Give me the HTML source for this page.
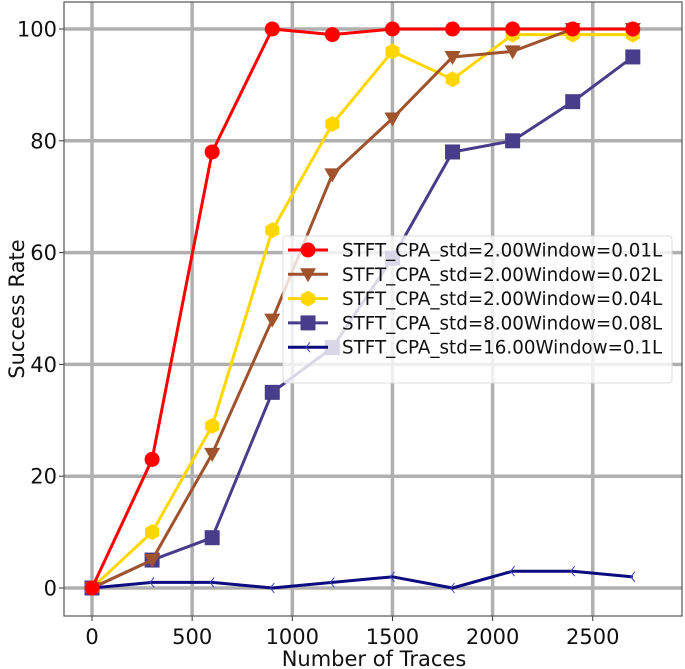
<!DOCTYPE html>
<html><head><meta charset="utf-8"><style>
body{margin:0;background:#fff;}
svg{display:block;font-family:"DejaVu Sans","Liberation Sans",sans-serif;}
</style></head><body>
<svg id="chart" width="685" height="669" viewBox="0 0 685 669"></svg>
<script>
const xCats=[0,300,600,900,1200,1500,1800,2100,2400,2700];
const red=[0,23,78,100,99,100,100,100,100,100];
const brown=[0,5,24,48,74,84,95,96,100,100];
const yellow=[0,10,29,64,83,96,91,99,99,99];
const purple=[0,5,9,35,43,59,78,80,87,95];
const navy=[0,1,1,0,1,2,0,3,3,2];
const xTicks=[0,500,1000,1500,2000,2500];
const yTicks=[0,20,40,60,80,100];
const labels=["STFT_CPA_std=2.00Window=0.01L","STFT_CPA_std=2.00Window=0.02L","STFT_CPA_std=2.00Window=0.04L","STFT_CPA_std=8.00Window=0.08L","STFT_CPA_std=16.00Window=0.1L"];
const NS="http://www.w3.org/2000/svg";
const svg=document.getElementById('chart');
const X=v=>92+v*0.2003;
const Y=v=>588-v*5.59;
function mk(t,a,p){const e=document.createElementNS(NS,t);for(const k in a)e.setAttribute(k,a[k]);(p||svg).appendChild(e);return e;}
const L=64,R=682,T=2,B=616;
xTicks.forEach(t=>{
 const g=mk('line',{x1:X(t),x2:X(t),y1:T,y2:B,stroke:'#b0b0b0','stroke-width':3.5});
 
 mk('line',{x1:X(t),x2:X(t),y1:B,y2:B+5,stroke:'#333','stroke-width':1});
 const tx=mk('text',{x:X(t),y:644,'text-anchor':'middle','font-size':21,fill:'#111'});tx.textContent=t;
 
});
yTicks.forEach(t=>{
 const g=mk('line',{x1:L,x2:R,y1:Y(t),y2:Y(t),stroke:'#b0b0b0','stroke-width':3.5});
 
 mk('line',{x1:L-5,x2:L,y1:Y(t),y2:Y(t),stroke:'#333','stroke-width':1});
 const tx=mk('text',{x:L-7,y:Y(t)+7.5,'text-anchor':'end','font-size':21,fill:'#111'});tx.textContent=t;
 
});
const fr=mk('rect',{x:L,y:T,width:R-L,height:B-T,fill:'none',stroke:'#555','stroke-width':1.2});

const xl=mk('text',{x:374,y:666,'text-anchor':'middle','font-size':21,fill:'#111'});xl.textContent='Number of Traces';

const yl=mk('text',{x:0,y:0,'text-anchor':'middle','font-size':21,fill:'#111',transform:'translate(24,309) rotate(-90)'});yl.textContent='Success Rate';

function marker(kind,x,y,c,p){
 if(kind==='circle')return mk('circle',{cx:x,cy:y,r:7.5,fill:c},p);
 if(kind==='tri')return mk('polygon',{points:`${x-8},${y-6} ${x+8},${y-6} ${x},${y+8}`,fill:c},p);
 if(kind==='hex')return mk('polygon',{points:`${x},${y-8} ${x+7},${y-4} ${x+7},${y+4} ${x},${y+8} ${x-7},${y+4} ${x-7},${y-4}`,fill:c},p);
 if(kind==='sq')return mk('rect',{x:x-7.5,y:y-7.5,width:15,height:15,fill:c},p);
 return mk('path',{d:`M${x+2},${y-5} L${x-2},${y} L${x+2},${y+5}`,fill:'none',stroke:'#4040c0','stroke-width':1},p);
}
const series=[[navy,'#0c0c80','tick','series-16.00-window-0.1L'],[purple,'#483d8b','sq','series-8.00-window-0.08L'],[yellow,'#ffd700','hex','series-2.00-window-0.04L'],[brown,'#a0522d','tri','series-2.00-window-0.02L'],[red,'#ff0000','circle','series-2.00-window-0.01L']];
series.forEach(([d,c,k,n])=>{
 const g=mk('g',{});
 mk('polyline',{points:d.map((v,i)=>X(xCats[i])+','+Y(v)).join(' '),fill:'none',stroke:c,'stroke-width':3,'stroke-linejoin':'round'},g);
 d.forEach((v,i)=>{const m=marker(k,X(xCats[i]),Y(v),c,g);});
});
const lg=mk('g',{});
mk('rect',{x:283,y:236,width:389,height:147,rx:3,fill:'rgba(255,255,255,0.8)',stroke:'#ddd'},lg);
const legOrder=[[red,'#ff0000','circle'],[brown,'#a0522d','tri'],[yellow,'#ffd700','hex'],[purple,'#483d8b','sq'],[navy,'#0c0c80','tick']];
legOrder.forEach(([d,c,k],i)=>{
 const y=250+i*24.3;
 const e=mk('g',{},lg);
 mk('line',{x1:288,x2:328,y1:y,y2:y,stroke:c,'stroke-width':3},e);
 marker(k,308,y,c,e);
 const t=mk('text',{x:342,y:y+6.5,'font-size':18.3,fill:'#111'},e);t.textContent=labels[i];
});
</script>
</body></html>
